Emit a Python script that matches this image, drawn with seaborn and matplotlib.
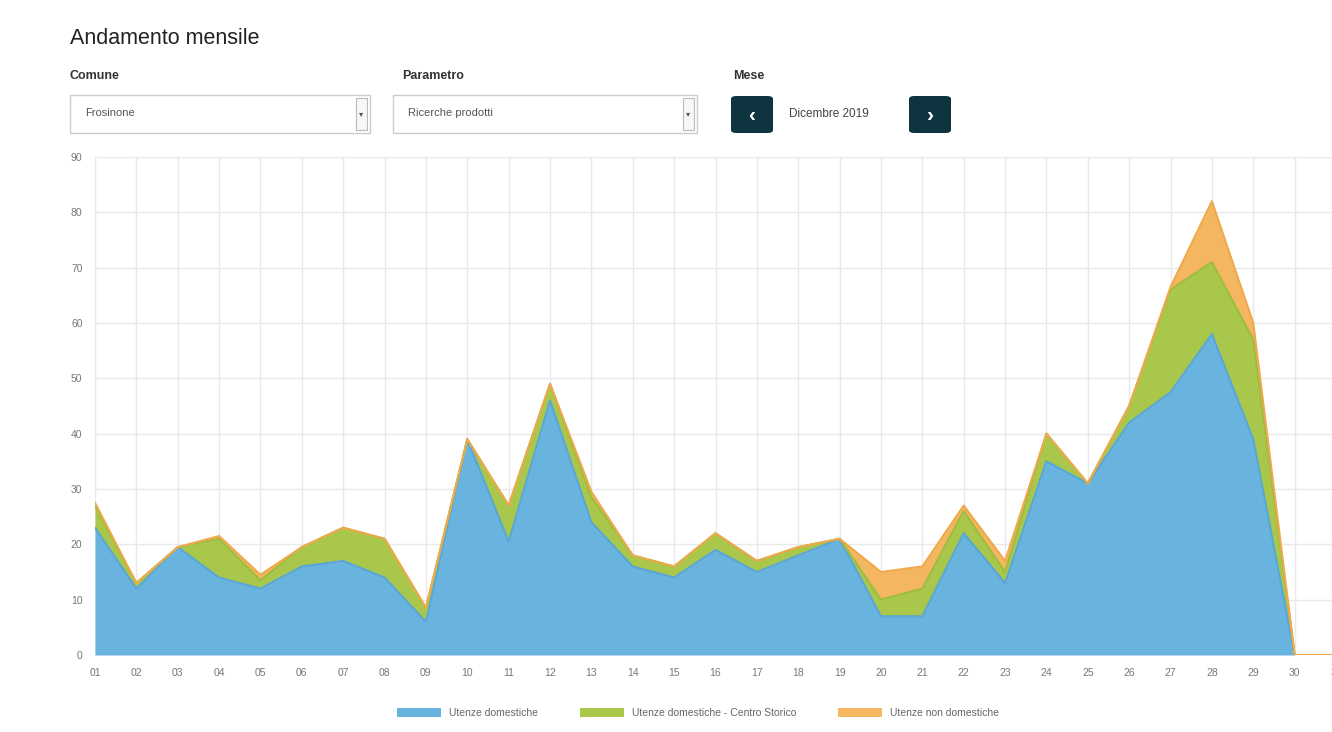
import numpy as np
import matplotlib
matplotlib.use("Agg")
import matplotlib.pyplot as plt
from matplotlib.patches import Rectangle, FancyBboxPatch
import seaborn as sns

# daily values, December 2019
days = [1, 2, 3, 4, 5, 6, 7, 8, 9, 10, 11, 12, 13, 14, 15, 16,
        17, 18, 19, 20, 21, 22, 23, 24, 25, 26, 27, 28, 29, 30, 31]
day_labels = ["01", "02", "03", "04", "05", "06", "07", "08", "09", "10",
              "11", "12", "13", "14", "15", "16", "17", "18", "19", "20",
              "21", "22", "23", "24", "25", "26", "27", "28", "29", "30", "31"]
domestiche = [23, 12, 19.5, 14, 12, 16, 17, 14, 6, 39, 20.5, 46, 24, 16, 14, 19,
              15, 18, 21, 7, 7, 22, 13, 35, 31, 42, 47.5, 58, 39, 0, 0]
centro_storico = [4, 1, 0, 7, 1.5, 3.5, 6, 7, 2.5, 0, 6.5, 3, 4.5, 2, 2, 3,
                  2, 1.5, 0, 3, 5, 4, 2, 5, 0, 3, 18.5, 13, 18, 0, 0]
non_domestiche = [0.5, 0, 0, 0.5, 1, 0, 0, 0, 0, 0, 0, 0, 1, 0, 0, 0,
                  0, 0, 0, 5, 4, 1, 2, 0, 0, 0, 0.5, 11, 3, 0, 0]
series_names = ["Utenze domestiche", "Utenze domestiche - Centro Storico",
                "Utenze non domestiche"]
fill_colors = ["#69b3df", "#a9c84b", "#f4b660"]
edge_colors = ["#5aa6d6", "#9cbd3d", "#efa94c"]

sns.set_theme(style="whitegrid")
plt.rcParams["font.family"] = ["Liberation Sans", "DejaVu Sans"]

W, H = 1332, 732
fig = plt.figure(figsize=(W / 100, H / 100), dpi=100)
fig.patch.set_facecolor("white")


def fx(x):
    return x / W


def fy(y):
    return 1 - y / H


# axes: x=01 at 95px, 31 at ~1336px; y=0 at 655px, 90 at 157px
ax = fig.add_axes([fx(95), fy(655), (1336 - 95) / W, (655 - 157) / H])
ax.set_facecolor("white")

base = np.zeros(len(days))
for vals, name, fc, ec in zip([domestiche, centro_storico, non_domestiche],
                              series_names, fill_colors, edge_colors):
    top = base + np.array(vals)
    ax.fill_between(days, base, top, color=fc, linewidth=0, zorder=2)
    sns.lineplot(x=days, y=top, ax=ax, color=ec, linewidth=1.5, zorder=3)
    base = top

ax.set_xlim(1, 31)
ax.set_ylim(0, 90)
ax.set_xticks(days)
ax.set_xticklabels(day_labels)
ax.set_yticks(range(0, 91, 10))
ax.tick_params(axis="both", labelsize=7.5, colors="#777777", length=0, pad=9)
ax.grid(True, color="#e9e9e9", linewidth=1)
for s in ax.spines.values():
    s.set_visible(False)
ax.axhline(0, color="#dddddd", linewidth=1, zorder=1)
ax.set_xlabel("")
ax.set_ylabel("")

# legend
handles = [Rectangle((0, 0), 1, 1, facecolor=c, edgecolor="none") for c in fill_colors]
fig.legend(handles, series_names, loc="center", bbox_to_anchor=(fx(698), fy(713)),
           ncol=3, frameon=False, fontsize=7.5, handlelength=4.2, handleheight=1.0,
           columnspacing=4.0, handletextpad=0.8, labelcolor="#666666")

# header
fig.text(fx(70), fy(38), "Andamento mensile", fontsize=15.5, color="#222222",
         va="center", ha="left")
for x, lab in [(70, "Comune"), (402, "Parametro"), (733, "Mese")]:
    fig.text(fx(x), fy(76), lab, fontsize=9, fontweight="bold", color="#333333",
             va="center", ha="left")

# select boxes
for x0, x1, txt in [(70, 370, "Frosinone"), (393, 697, "Ricerche prodotti")]:
    fig.add_artist(Rectangle((fx(x0), fy(133)), fx(x1 - x0), (133 - 95) / H,
                             transform=fig.transFigure, facecolor="white",
                             edgecolor="#cccccc", linewidth=1))
    fig.add_artist(Rectangle((fx(x1 - 14), fy(130)), fx(11), (130 - 98) / H,
                             transform=fig.transFigure, facecolor="#f7f7f7",
                             edgecolor="#bbbbbb", linewidth=0.8))
    fig.text(fx(x1 - 8.5), fy(115), "▾", fontsize=6, color="#555555",
             ha="center", va="center")
    fig.text(fx(x0 + 15), fy(113), txt, fontsize=8, color="#555555",
             ha="left", va="center")

# month navigation
for x0, arrow in [(731, "‹"), (909, "›")]:
    fig.add_artist(FancyBboxPatch((fx(x0), fy(133)), fx(42), (133 - 96) / H,
                                  boxstyle="round,pad=0,rounding_size=0.004",
                                  transform=fig.transFigure, facecolor="#0e3440",
                                  edgecolor="none"))
    fig.text(fx(x0 + 21), fy(115), arrow, fontsize=15, fontweight="bold",
             color="white", ha="center", va="center")
fig.text(fx(789), fy(114), "Dicembre 2019", fontsize=8.5, color="#444444",
         ha="left", va="center")

fig.savefig("out.png", dpi=100)
